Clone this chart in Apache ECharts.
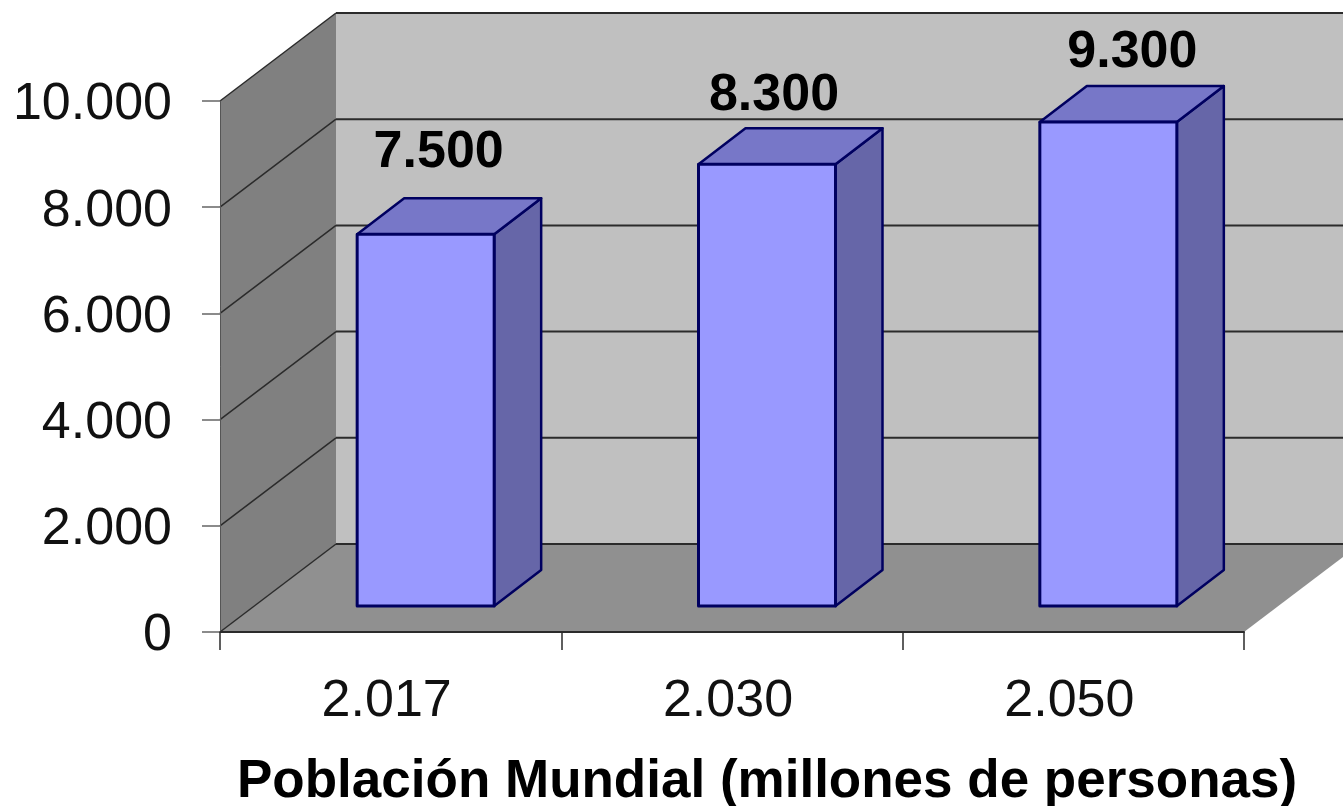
<!DOCTYPE html>
<html lang="es">

<head>
    <meta charset="UTF-8">
    <title>Población Mundial</title>
    <script src="https://cdn.jsdelivr.net/npm/echarts@6/dist/echarts.min.js"></script>
    <style>
        html, body { margin: 0; padding: 0; background: #fff; overflow: hidden; }
        #viz { width: 1343px; height: 806px; }
    </style>
</head>

<body>
    <div id="viz"></div>

    <script>
        const chartTitle = 'Población Mundial (millones de personas)';
        const categories = ['2.017', '2.030', '2.050'];
        // drawn bar heights as read against the wall scale; printed labels differ for the first bar
        const barHeights = [7000, 8320, 9115];
        const barLabels = ['7.500', '8.300', '9.300'];
        const yTicks = [0, 2000, 4000, 6000, 8000, 10000];

        const font = '"Liberation Sans", Arial, sans-serif';
        // 3D projection in pixels
        const depthX = 116, depthY = 88;       // chart floor depth
        const barDepthX = 47, barDepthY = 36;  // bar depth
        const barLift = 26, barShift = 35;     // bar front face sits inside the floor
        const barWidth = 137;
        const labelNudge = [[13, -82], [7, -69], [24, -69]];

        const line = '#2b2b2b';
        const barLine = '#000060';

        const poly = (points, fill, stroke, lineWidth) => ({
            type: 'polygon',
            shape: { points },
            style: { fill, stroke: stroke || 'none', lineWidth: lineWidth || 0, lineJoin: 'round' }
        });

        const seg = (x1, y1, x2, y2, stroke, lineWidth) => ({
            type: 'line',
            shape: { x1, y1, x2, y2 },
            style: { stroke, lineWidth }
        });

        const renderWalls = (params, api) => {
            const cs = params.coordSys;
            const x0 = cs.x, x1 = cs.x + cs.width;
            const bottom = api.coord([0, 0])[1], top = api.coord([0, 10000])[1];
            const children = [
                poly([[x0 + depthX, top - depthY], [x1 + depthX, top - depthY], [x1 + depthX, bottom - depthY], [x0 + depthX, bottom - depthY]], '#c0c0c0'),
                poly([[x0, top], [x0 + depthX, top - depthY], [x0 + depthX, bottom - depthY], [x0, bottom]], '#808080'),
                poly([[x0, bottom], [x0 + depthX, bottom - depthY], [x1 + depthX, bottom - depthY], [x1, bottom]], '#909090')
            ];
            for (const t of yTicks) {
                const y = api.coord([0, t])[1];
                children.push(seg(x0, y, x0 + depthX, y - depthY, line, 1.5));
                children.push(seg(x0 + depthX, y - depthY, x1 + depthX, y - depthY, line, 2));
            }
            return { type: 'group', children };
        };

        const renderBar = (params, api) => {
            const i = api.value(0);
            const base = api.coord([i, 0]);
            const topPt = api.coord([i, api.value(1)]);
            const l = base[0] + barShift - barWidth / 2, r = l + barWidth;
            const b = base[1] - barLift;
            const t = topPt[1] - barLift;
            const dx = barDepthX, dy = barDepthY;
            return {
                type: 'group',
                children: [
                    poly([[r, t], [r + dx, t - dy], [r + dx, b - dy], [r, b]], '#6666a8', barLine, 2.5),
                    poly([[l, t], [l + dx, t - dy], [r + dx, t - dy], [r, t]], '#7777c8', barLine, 2.5),
                    poly([[l, t], [r, t], [r, b], [l, b]], '#9999ff', barLine, 3),
                    {
                        type: 'text',
                        style: {
                            text: barLabels[i],
                            x: (l + r) / 2 + labelNudge[i][0],
                            y: t + labelNudge[i][1],
                            fill: '#000',
                            font: 'bold 52px ' + font,
                            align: 'center',
                            verticalAlign: 'middle'
                        }
                    }
                ]
            };
        };

        const option = {
            animation: false,
            backgroundColor: '#fff',
            title: {
                text: chartTitle,
                left: 232,
                top: 751,
                textStyle: { fontFamily: font, fontWeight: 'bold', fontSize: 53, color: '#000' }
            },
            grid: { left: 220, top: 101, width: 1024, height: 531 },
            xAxis: {
                type: 'category',
                data: categories,
                axisLine: { show: true, lineStyle: { color: line, width: 2 } },
                axisTick: { show: true, length: 18, lineStyle: { color: line, width: 1.5 } },
                axisLabel: { fontFamily: font, fontSize: 52, color: '#111', margin: 44, padding: [0, 8, 0, 0] },
                z: 5
            },
            yAxis: {
                type: 'value',
                min: 0,
                max: 10000,
                interval: 2000,
                splitLine: { show: false },
                axisLine: { show: true, lineStyle: { color: '#555', width: 1 } },
                axisTick: { show: true, length: 18, lineStyle: { color: '#666', width: 1.5 } },
                axisLabel: {
                    fontFamily: font,
                    fontSize: 52,
                    color: '#111',
                    margin: 48,
                    verticalAlign: 'top',
                    lineHeight: 8,
                    formatter: v => v === 0 ? '0' : (v / 1000).toFixed(0) + '.000'
                },
                z: 5
            },
            series: [
                { type: 'custom', renderItem: renderWalls, data: [[0, 0]], z: 1, silent: true },
                {
                    type: 'custom',
                    renderItem: renderBar,
                    data: barHeights.map((v, i) => [i, v]),
                    encode: { x: 0, y: 1 },
                    z: 10
                }
            ]
        };

        const chart = echarts.init(document.getElementById('viz'), null, { renderer: 'canvas' });
        chart.setOption(option);
    </script>
</body>

</html>
